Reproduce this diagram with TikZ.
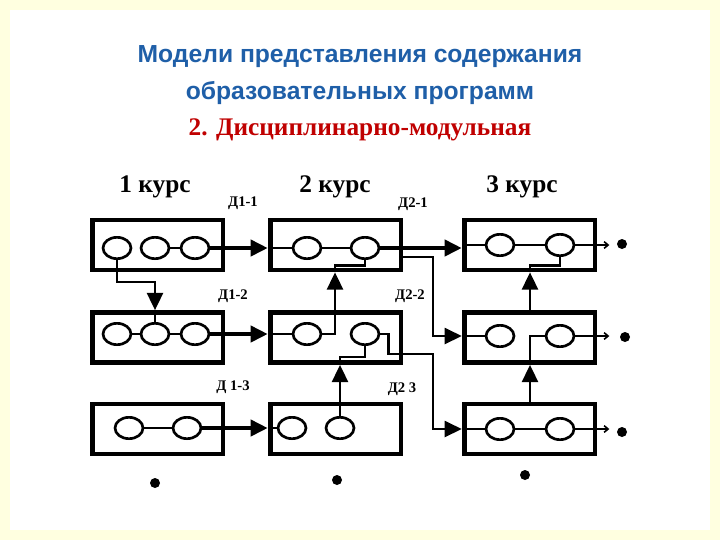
\documentclass[tikz,border=0pt]{standalone}
\usepackage{fontspec}
\setmainfont{Liberation Serif}
\newfontfamily\titlefont{Liberation Sans}
\usepackage{xcolor}
\definecolor{titleblue}{HTML}{1F5FA8}
\definecolor{titlered}{HTML}{C00000}
\definecolor{paleyellow}{HTML}{FFFFE0}
\usetikzlibrary{arrows.meta, positioning, shapes.geometric, calc}

\tikzset{
  box/.style={draw, line width=3.5pt, minimum width=98pt, minimum height=37.5pt, inner sep=0pt},
  unit/.style={draw, ellipse, line width=2pt, minimum width=21pt, minimum height=16pt, inner sep=0pt},
  link/.style={line width=2pt},
  main/.style={line width=3.5pt, -{Triangle[length=13pt, width=12pt]}},
  feed/.style={line width=2pt, -{Triangle[length=13pt, width=12pt]}},
  exit/.style={line width=1.2pt, -{Straight Barb[length=3pt, width=5pt]}},
  dot/.style={circle, fill, inner sep=0pt, minimum size=7.5pt},
  course/.style={font=\fontsize{19}{21}\selectfont\bfseries},
  disc/.style={font=\fontsize{11}{13}\selectfont\bfseries},
  heading/.style={font=\titlefont\bfseries\fontsize{18.5}{21}\selectfont, text=titleblue}
}

\begin{document}
\begin{tikzpicture}[x=0.75pt, y=-0.75pt]
  % background
  \fill[paleyellow] (0,0) rectangle (720,540);
  \fill[white] (10,10) rectangle (710,530);
  \useasboundingbox (0,0) rectangle (720,540);

  % title
  \node[heading] (t1) at (360,57) {Модели представления содержания};
  \node[heading] (t2) at (360,93) {образовательных программ};
  \node[font=\fontsize{19}{21}\selectfont\bfseries, text=titlered] (t3) at (360,130) {2. Дисциплинарно-модульная};

  % course headers
  \node[course] (k1) at (155,187) {1 курс};
  \node[course] (k2) at (335,187) {2 курс};
  \node[course] (k3) at (522,187) {3 курс};

  % discipline labels
  \node[disc] (d11) at (243,203) {Д1-1};
  \node[disc] (d12) at (233,296) {Д1-2};
  \node[disc] (d13) at (233,387) {Д 1-3};
  \node[disc] (d21) at (413,204) {Д2-1};
  \node[disc] (d22) at (410,296) {Д2-2};
  \node[disc] (d23) at (402,389) {Д2 3};

  % boxes
  \node[box] (b11) at (157.5,245) {};
  \node[box] (b12) at (157.5,337.5) {};
  \node[box] (b13) at (157.5,429) {};
  \node[box] (b21) at (335.5,245) {};
  \node[box] (b22) at (335.5,337.5) {};
  \node[box] (b23) at (335.5,429) {};
  \node[box] (b31) at (529.5,245) {};
  \node[box] (b32) at (529.5,337.5) {};
  \node[box] (b33) at (529.5,429) {};

  % modules
  \node[unit] (c11a) at (117,248) {};
  \node[unit] (c11b) at (155,248) {};
  \node[unit] (c11c) at (195,248) {};
  \node[unit] (c12a) at (117,334) {};
  \node[unit] (c12b) at (155,334) {};
  \node[unit] (c12c) at (195,334) {};
  \node[unit] (c13a) at (129,428) {};
  \node[unit] (c13b) at (187,428) {};
  \node[unit] (c21a) at (307,248) {};
  \node[unit] (c21b) at (365,248) {};
  \node[unit] (c22a) at (307,334) {};
  \node[unit] (c22b) at (365,334) {};
  \node[unit] (c23a) at (292,428) {};
  \node[unit] (c23b) at (340,428) {};
  \node[unit] (c31a) at (500,245) {};
  \node[unit] (c31b) at (560,245) {};
  \node[unit] (c32a) at (500,336) {};
  \node[unit] (c32b) at (560,336) {};
  \node[unit] (c33a) at (500,429) {};
  \node[unit] (c33b) at (560,429) {};

  % end points
  \node[dot] (e1) at (622,244) {};
  \node[dot] (e2) at (625,337) {};
  \node[dot] (e3) at (622,432) {};
  \node[dot] (f1) at (155,483) {};
  \node[dot] (f2) at (337,480) {};
  \node[dot] (f3) at (525,475) {};

  \coordinate (v2) at (335,0);
  \coordinate (v3) at (433,0);
  \coordinate (v4) at (530,0);

  % links inside boxes
  \draw[link] (c11b) -- (c11c);
  \draw[link] (c12a) -- (c12b) -- (c12c);
  \draw[link] (c13a) -- (c13b);
  \draw[link] (b21.west |- c21a) -- (c21a) -- (c21b);
  \draw[link] (b22.west |- c22a) -- (c22a);
  \draw[link] (b23.west |- c23a) -- (c23a);
  \draw[link] (b31.west |- c31a) -- (c31a) -- (c31b);
  \draw[link] (b32.west |- c32a) -- (c32a);
  \draw[link] (b33.west |- c33a) -- (c33a) -- (c33b);

  % year to year
  \draw[main] (c11c) -- (b21.west |- c11c);
  \draw[main] (c12c) -- (b22.west |- c12c);
  \draw[main] (c13b) -- (b23.west |- c13b);
  \draw[main] (c21b) -- (b31.west |- c21b);
  \draw[feed] ($(b21.east)+(0,12)$) -| (v3 |- c32a) -- (b32.west |- c32a);
  \draw[feed] (c22b.east) -- ++(8,0) -- ++(0,20) -| (v3 |- c33a) -- (b33.west |- c33a);

  % inside first year
  \draw[feed] (c11a.south) -- ++(0,22) -| (b12.north -| c12b);
  \draw[link] (b12.north -| c12b) -- (c12b.north);

  % inside second year
  \draw[feed] (c22a.east) -| (b21.south -| v2);
  \draw[link] (b21.south -| v2) -- ++(0,-7) -| (c21b.south);
  \draw[feed] (c23b.north) -- (b22.south -| c23b);
  \draw[link] (b22.south -| c23b) -- ++(0,-8) -| (c22b.south);

  % inside third year
  \draw[feed] (b32.north -| v4) -- (b31.south -| v4);
  \draw[link] (b31.south -| v4) -- ++(0,-7) -| (c31b.south);
  \draw[feed] (b33.north -| v4) -- (b32.south -| v4);
  \draw[link] (b32.south -| v4) |- (c32b.west);

  % outputs
  \draw[exit] (c31b.east) -- ++(34,0);
  \draw[exit] (c32b.east) -- ++(34,0);
  \draw[exit] (c33b.east) -- ++(34,0);
\end{tikzpicture}
\end{document}
